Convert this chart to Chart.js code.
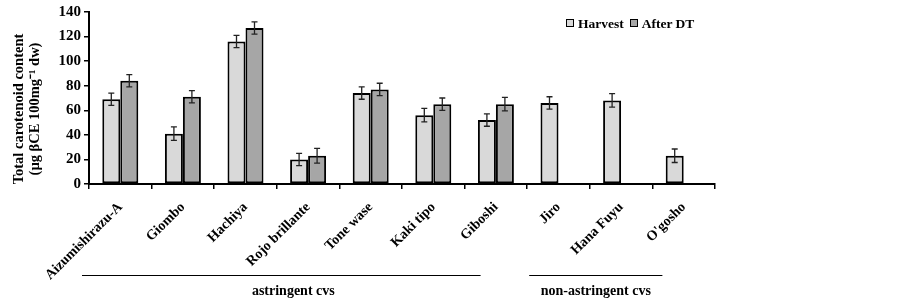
<!DOCTYPE html>
<html>
<head>
<meta charset="utf-8">
<script src="https://cdn.jsdelivr.net/npm/chart.js@4"></script>
<style>
  html, body { margin: 0; padding: 0; background: #fff; }
  #wrap { position: relative; width: 902px; height: 298px; }
  #legend { position: absolute; left: 566px; top: 16px; font: bold 13.5px 'Liberation Serif', serif; color: #000; white-space: nowrap; }
  #legend span.box { display: inline-block; width: 6px; height: 6px; border: 1.5px solid #000; margin-right: 4px; vertical-align: 1px; }
  #legend span.item { margin-right: 6px; }
</style>
</head>
<body>
<div id="wrap">
  <canvas id="chart" width="902" height="298"></canvas>
  <div id="legend"></div>
</div>
<script>
const cultivars = ['Aizumishirazu-A', 'Giombo', 'Hachiya', 'Rojo brillante', 'Tone wase',
                   'Kaki tipo', 'Giboshi', 'Jiro', 'Hana Fuyu', "O'gosho"];
const harvest    = [69, 41, 116, 20, 74, 56, 52, 66, 68, 23];
const harvestErr = [5, 5.5, 5, 5, 5, 5.5, 5, 5, 5.5, 5.5];
const afterDT    = [84, 71, 127, 23, 77, 65, 65, null, null, null];
const afterDTErr = [5, 5, 5, 6, 5, 5, 5.5, null, null, null];
const yTicks = [0, 20, 40, 60, 80, 100, 120, 140];
const yTitle = ['Total carotenoid content', '(\u00b5g \u03b2CE 100mg\u207b\u00b9 dw)'];
const groups = [
    { label: 'astringent cvs', from: 0, to: 6 },
    { label: 'non-astringent cvs', from: 7, to: 9 }
];

const FONT = "'Liberation Serif', 'Times New Roman', serif";

// error bars drawn on top of each bar
const errorBars = {
    id: 'errorBars',
    afterDatasetsDraw(chart) {
        const ctx = chart.ctx;
        const y = chart.scales.y;
        const errs = [harvestErr, afterDTErr];
        ctx.save();
        ctx.strokeStyle = '#222';
        ctx.lineWidth = 1.3;
        chart.data.datasets.forEach((ds, di) => {
            const meta = chart.getDatasetMeta(di);
            meta.data.forEach((bar, i) => {
                const v = ds.data[i], e = errs[di][i];
                if (v == null || e == null) return;
                const top = y.getPixelForValue(v + e);
                const bot = y.getPixelForValue(v - e);
                ctx.beginPath();
                ctx.moveTo(bar.x, top); ctx.lineTo(bar.x, bot);
                ctx.moveTo(bar.x - 3, top); ctx.lineTo(bar.x + 3, top);
                ctx.moveTo(bar.x - 3, bot); ctx.lineTo(bar.x + 3, bot);
                ctx.stroke();
            });
        });
        ctx.restore();
    }
};

// y title drawn by hand: in the original it sits a bit below the axis middle
const sideTitle = {
    id: 'sideTitle',
    afterDraw(chart) {
        const ctx = chart.ctx;
        const y = chart.scales.y;
        const cy = (y.top + y.bottom) / 2 + 11;
        ctx.save();
        ctx.fillStyle = '#000';
        ctx.font = 'bold 14.5px ' + FONT;
        ctx.textAlign = 'center';
        ctx.textBaseline = 'middle';
        yTitle.forEach((line, i) => {
            ctx.save();
            ctx.translate(19 + i * 16.5, cy);
            ctx.rotate(-Math.PI / 2);
            ctx.fillText(line, 0, 0);
            ctx.restore();
        });
        ctx.restore();
    }
};

// group brackets under the category labels
const groupLabels = {
    id: 'groupLabels',
    afterDraw(chart) {
        const ctx = chart.ctx;
        const x = chart.scales.x;
        const w = (x.right - x.left) / cultivars.length;
        const offs = [[-7, 16, 12], [2, 10, 0]];
        ctx.save();
        ctx.strokeStyle = '#000';
        ctx.lineWidth = 1;
        ctx.fillStyle = '#000';
        ctx.font = 'bold 14px ' + FONT;
        ctx.textAlign = 'center';
        ctx.textBaseline = 'middle';
        groups.forEach((g, k) => {
            const x0 = x.left + g.from * w + offs[k][0];
            const x1 = x.left + g.to * w + offs[k][1];
            ctx.beginPath();
            ctx.moveTo(x0, 275.5); ctx.lineTo(x1, 275.5);
            ctx.stroke();
            ctx.fillText(g.label, (x0 + x1) / 2 + offs[k][2], 291);
        });
        ctx.restore();
    }
};

new Chart(document.getElementById('chart'), {
    type: 'bar',
    data: {
        labels: cultivars,
        datasets: [
            {
                label: 'Harvest',
                data: harvest,
                backgroundColor: '#d9d9d9',
                borderColor: '#000',
                borderWidth: 2,
                borderSkipped: false,
                categoryPercentage: 0.575,
                barPercentage: 1
            },
            {
                label: 'After DT',
                data: afterDT,
                backgroundColor: '#a6a6a6',
                borderColor: '#000',
                borderWidth: 2,
                borderSkipped: false,
                categoryPercentage: 0.575,
                barPercentage: 1
            }
        ]
    },
    options: {
        responsive: false,
        animation: false,
        layout: { padding: { top: 10, right: 187, left: 0, bottom: 0 } },
        plugins: {
            legend: { display: false },
            tooltip: { enabled: false }
        },
        scales: {
            x: {
                grid: { display: true, drawOnChartArea: false, drawTicks: true, tickLength: 5, color: '#000', lineWidth: 1.5, offset: true },
                border: { color: '#000', width: 2 },
                ticks: {
                    color: '#000', font: { family: FONT, size: 14, weight: 'bold' },
                    maxRotation: 45, minRotation: 45, padding: 10, autoSkip: false
                },
                afterFit(s) { s.height = 114; }
            },
            y: {
                min: 0, max: 140,
                afterBuildTicks(s) { s.ticks = yTicks.map(v => ({ value: v })); },
                grid: { display: true, drawOnChartArea: false, drawTicks: true, tickLength: 5, color: '#000', lineWidth: 1.5 },
                border: { color: '#000', width: 2 },
                ticks: { color: '#000', font: { family: FONT, size: 15, weight: 'bold' }, padding: 3 },
                afterFit(s) { s.width = 89; }
            }
        }
    },
    plugins: [errorBars, sideTitle, groupLabels]
});

// legend built as html, sitting inside the plot area
const legendEl = document.getElementById('legend');
legendEl.innerHTML = [['Harvest', '#d9d9d9'], ['After DT', '#a6a6a6']].map(([t, c]) =>
    `<span class="item"><span class="box" style="background:${c}"></span>${t}</span>`
).join('');
</script>
</body>
</html>
